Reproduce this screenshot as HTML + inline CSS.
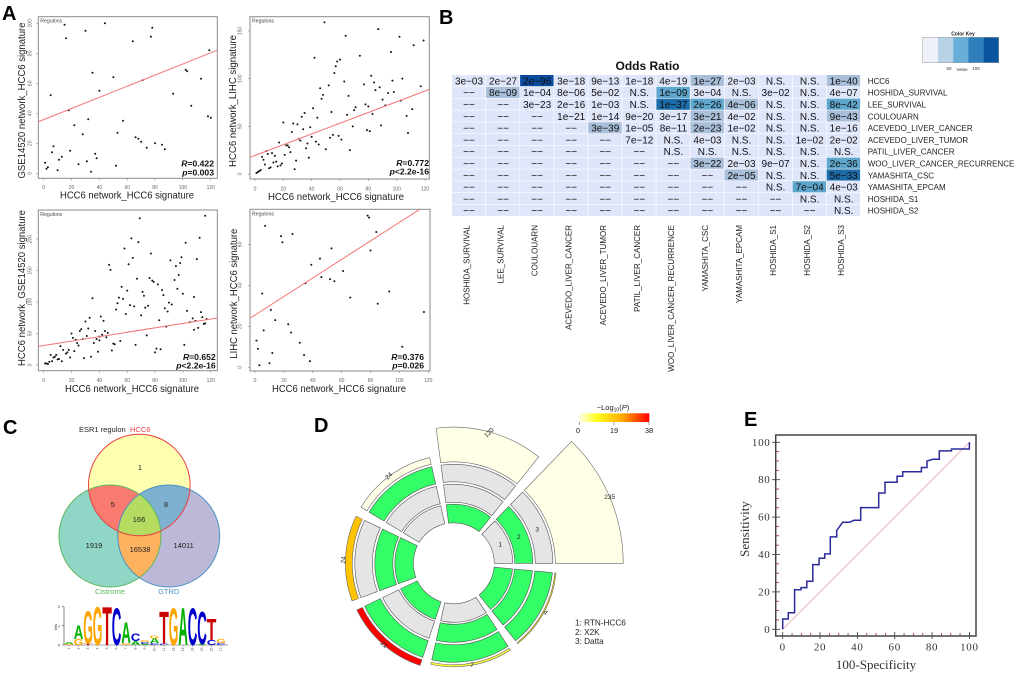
<!DOCTYPE html>
<html lang="en">
<head>
<meta charset="utf-8">
<title>HCC6 regulon figure</title>
<style>
html,body{margin:0;padding:0;background:#fff;width:1020px;height:679px;overflow:hidden}
svg{display:block;font-family:"Liberation Sans",sans-serif;filter:blur(.3px)}
</style>
</head>
<body>
<svg id="fig" xmlns="http://www.w3.org/2000/svg" width="1020" height="679" viewBox="0 0 1020 679">
<defs>
<clipPath id="clip-top"><circle cx="139.3" cy="485" r="50.8"/></clipPath>
<clipPath id="clip-left"><circle cx="110" cy="536" r="51"/></clipPath>
<clipPath id="clip-right"><circle cx="168.7" cy="536" r="51"/></clipPath>
<linearGradient id="p-gradient" x1="0" x2="1" y1="0" y2="0">
<stop offset="0" stop-color="#ffffe8"/><stop offset="0.25" stop-color="#ffff20"/><stop offset="0.6" stop-color="#ffb000"/><stop offset="1" stop-color="#ff0000"/>
</linearGradient>
</defs>
<g font-weight="bold" font-size="20" fill="#000">
<text x="2" y="20">A</text>
<text x="439" y="24">B</text>
<text x="3" y="434">C</text>
<text x="314" y="432">D</text>
<text x="744" y="426">E</text>
</g>
<g id="venn">
<circle cx="139.3" cy="485" r="50.8" fill="#ffffb0"/>
<circle cx="110" cy="536" r="51" fill="#8fd6c6"/>
<circle cx="168.7" cy="536" r="51" fill="#bcb8d8"/>
<g clip-path="url(#clip-top)"><circle cx="110" cy="536" r="51" fill="#f97b70"/><circle cx="168.7" cy="536" r="51" fill="#7eb0d0"/></g>
<g clip-path="url(#clip-left)"><circle cx="168.7" cy="536" r="51" fill="#fdb25f"/></g>
<g clip-path="url(#clip-top)"><g clip-path="url(#clip-left)"><circle cx="168.7" cy="536" r="51" fill="#b5dc60"/></g></g>
<circle cx="110" cy="536" r="51" fill="none" stroke="#5cb85c"/>
<circle cx="168.7" cy="536" r="51" fill="none" stroke="#4a90c4"/>
<circle cx="139.3" cy="485" r="50.8" fill="none" stroke="#e84040"/>
<g font-size="7.5" fill="#222" text-anchor="middle">
<text x="140" y="470">1</text>
<text x="112.7" y="507">5</text>
<text x="166" y="507">8</text>
<text x="139" y="522">166</text>
<text x="94" y="548">1919</text>
<text x="140" y="552">16538</text>
<text x="183.7" y="548">14011</text>
</g>
<text x="79" y="432" font-size="7.5" fill="#222">ESR1 regulon</text>
<text x="130" y="432" font-size="7.5" fill="#e84040">HCC6</text>
<text x="110" y="594" font-size="7.5" fill="#5cb85c" text-anchor="middle">Cistrome</text>
<text x="168.7" y="594" font-size="7.5" fill="#4a90c4" text-anchor="middle">GTRD</text>
</g>
<g id="d-legend">
<text x="613" y="410" font-size="7.5" text-anchor="middle" fill="#222">−Log<tspan font-size="5" dy="1.5">10</tspan><tspan dy="-1.5">(</tspan><tspan font-style="italic">P</tspan>)</text>
<rect x="579.3" y="413.3" width="70" height="8.7" fill="url(#p-gradient)"/>
<g stroke="#444" stroke-width=".5"><line x1="579.5" x2="579.5" y1="422" y2="425"/><line x1="614" x2="614" y1="422" y2="425"/><line x1="649" x2="649" y1="422" y2="425"/></g>
<g font-size="7.5" text-anchor="middle" fill="#222">
<text x="578" y="433">0</text>
<text x="614" y="433">19</text>
<text x="649" y="433">38</text>
</g>
<g font-size="8.2" fill="#222">
<text x="575" y="625.5">1: RTN-HCC6</text>
<text x="575" y="635">2: X2K</text>
<text x="575" y="644">3: Datta</text>
</g>
</g>
<g id="color-key">
<text x="963" y="35.5" font-size="5" font-weight="bold" text-anchor="middle" fill="#222">Color Key</text>
<rect x="922.7" y="37.3" width="15.4" height="25.4" fill="#eef1fa"/>
<rect x="938" y="37.3" width="15.4" height="25.4" fill="#b9d3e6"/>
<rect x="953.2" y="37.3" width="15.4" height="25.4" fill="#69aed8"/>
<rect x="968.4" y="37.3" width="15.4" height="25.4" fill="#2f7fbd"/>
<rect x="983.6" y="37.3" width="15.4" height="25.4" fill="#0a549f"/>
<rect x="922.7" y="37.3" width="76" height="25.4" fill="none" stroke="#999" stroke-width=".5"/>
<g font-size="4.5" fill="#333" text-anchor="middle">
<text x="949" y="70">50</text>
<text x="962" y="71">Value</text>
<text x="976" y="70">100</text>
</g>
</g>
<text x="647.5" y="70" font-size="12" font-weight="bold" text-anchor="middle" fill="#111">Odds Ratio</text>
</svg>
<script>
/* ---------- scatter data ---------- */
const scatter1X=[1,2,3,5,6,7,10,11,13,15,16,18,19,22,25,28,30,31,32,34,35,37,38,40,44,50,52,53,57,64,66,68,70,71,74,77,78,80,85,87,93,102,103,106,113,118,119,120];
const scatter1Y=[7,3,4,52,14,18,2,9,11,99,90,42,15,32,6,26,95,8,36,1,67,13,10,55,100,64,5,27,35,88,24,23,21,62,17,91,97,20,19,16,53,69,68,45,63,38,82,37];
const scatter2X=[49,87,64,102,119,112,96,74,42,60,58,57,56,63,82,84,97,104,117,77,88,85,94,98,46,52,48,47,66,90,103,78,80,92,71,70,41,111,35,33,54,65,83,107,44,20,27,30,69,89,39,34,79,81,26,108,40,55,59,53,61,31,32,43,37,45,17,22,23,24,36,67,50,8,12,9,14,21,25,5,6,38,29,13,15,7,16,18,19,11,10,28,4,3,2,1];
const scatter2Y=[159,152,145,144,140,135,128,124,122,120,118,113,106,97,103,96,98,100,92,94,91,88,85,86,90,93,83,79,82,78,77,73,71,72,70,67,69,68,64,60,65,62,63,61,59,54,53,52,50,51,49,47,46,45,44,43,39,41,40,38,36,37,35,34,32,31,33,30,30,28,27,25,26,24,22,21,19,20,23,18,15,17,14,12,13,10,8,9,11,7,6,5,4,3,2,1];
const scatter3X=[69,116,63,68,112,102,58,77,64,110,99,91,61,47,48,95,98,97,94,67,76,78,79,82,56,60,71,96,85,86,100,72,54,57,35,108,53,90,92,62,65,75,73,52,87,89,103,113,59,70,114,33,41,43,83,107,109,105,117,30,27,26,32,37,20,88,111,108,116,115,44,46,42,40,45,38,31,28,21,23,24,25,36,40,51,50,55,74,66,101,12,14,22,39,18,16,17,19,29,34,49,81,84,80,5,9,8,7,10,11,13,6,4,1,2,3];
const scatter3Y=[233,237,201,195,202,194,185,177,170,168,171,166,160,159,151,157,162,143,135,137,138,134,132,128,124,118,116,121,119,111,113,110,107,105,106,108,98,99,96,95,93,94,91,88,90,85,86,84,81,79,76,75,77,70,71,74,70,68,73,69,57,54,58,54,50,61,59,56,66,65,54,51,48,45,44,41,46,41,43,40,35,31,35,39,33,34,38,47,32,32,30,24,22,21,24,18,20,12,11,13,23,26,25,20,16,16,13,12,9,9.5,6,6,5,2.5,2.5,1.5];
const scatter4X=[7,18,26,19,78,79,84,53,80,45,39,61,46,52,55,35,5,66,93,85,11,117,14,23,6,25,1,31,2,12,34,38,10,3,102];
const scatter4Y=[69,64,65,61,74,73,66,58,57,53,50,47,44,43,42,41,36,34,37,31,28,27,23,21,18,17,13,12,9,7,6,3,2,1,10];
const scatterFitIntercepts=[35.8,19.5,31,25.5];
const scatterFitSlopes=[0.371,0.563,0.35,0.452];
const scatterCorrelations=["0.422","0.772","0.652","0.376"];
const scatterPValues=["=0.003","<2.2e-16","<2.2e-16","=0.026"];
const xTickValues=[0,20,40,60,80,100,120];
const scatter1YTicks=[0,20,40,60,80,100];
const scatter2YTicks=[0,50,100,150];
const scatter3YTicks=[0,50,100,150,200];
const scatter4YTicks=[0,20,40,60];

/* ---------- heatmap data ---------- */
const heatmapRowLabels=["HCC6","HOSHIDA_SURVIVAL","LEE_SURVIVAL","COULOUARN","ACEVEDO_LIVER_CANCER","ACEVEDO_LIVER_TUMOR","PATIL_LIVER_CANCER","WOO_LIVER_CANCER_RECURRENCE","YAMASHITA_CSC","YAMASHITA_EPCAM","HOSHIDA_S1","HOSHIDA_S2"];
const heatmapColLabels=["HOSHIDA_SURVIVAL","LEE_SURVIVAL","COULOUARN","ACEVEDO_LIVER_CANCER","ACEVEDO_LIVER_TUMOR","PATIL_LIVER_CANCER","WOO_LIVER_CANCER_RECURRENCE","YAMASHITA_CSC","YAMASHITA_EPCAM","HOSHIDA_S1","HOSHIDA_S2","HOSHIDA_S3"];
const heatmapValues=[
["3e-03","2e-27","2e-96","3e-18","9e-13","1e-18","4e-19","1e-27","2e-03","N.S.","N.S.","1e-40"],
["--","8e-09","1e-04","8e-06","5e-02","N.S.","1e-09","3e-04","N.S.","3e-02","N.S.","4e-07"],
["--","--","3e-23","2e-16","1e-03","N.S.","1e-37","2e-26","4e-06","N.S.","N.S.","8e-42"],
["--","--","--","1e-21","1e-14","9e-20","3e-17","3e-21","4e-02","N.S.","N.S.","9e-43"],
["--","--","--","--","3e-39","1e-05","8e-11","2e-23","1e-02","N.S.","N.S.","1e-16"],
["--","--","--","--","--","7e-12","N.S.","4e-03","N.S.","N.S.","1e-02","2e-02"],
["--","--","--","--","--","--","N.S.","N.S.","N.S.","N.S.","N.S.","N.S."],
["--","--","--","--","--","--","--","3e-22","2e-03","9e-07","N.S.","2e-36"],
["--","--","--","--","--","--","--","--","2e-05","N.S.","N.S.","5e-33"],
["--","--","--","--","--","--","--","--","--","N.S.","7e-04","4e-03"],
["--","--","--","--","--","--","--","--","--","--","N.S.","N.S."],
["--","--","--","--","--","--","--","--","--","--","--","N.S."]
];
const heatmapOddsLevels=[
[0,0,4,0,0,0,0,1,0,0,0,1],
[0,1,0,0,0,0,2,0,0,0,0,0],
[0,0,0,0,0,0,3,2,1,0,0,2],
[0,0,0,0,0,0,0,1,0,0,0,1],
[0,0,0,0,1,0,0,1,0,0,0,0],
[0,0,0,0,0,0,0,0,0,0,0,0],
[0,0,0,0,0,0,0,0,0,0,0,0],
[0,0,0,0,0,0,0,1,0,0,0,2],
[0,0,0,0,0,0,0,0,1,0,0,3],
[0,0,0,0,0,0,0,0,0,0,2,0],
[0,0,0,0,0,0,0,0,0,0,0,0],
[0,0,0,0,0,0,0,0,0,0,0,0]
];

/* ---------- sequence logo data ---------- */
const logoPositions=[1,2,3,4,5,6,7,8,9,10,11,12,13,14,15,16,17];
const logoLetters=[["G","A"],["G","A"],["T","G"],["G"],["T"],["C"],["G","A"],["A","C"],["A","C","G"],["C","A","G"],["C","T"],["G"],["A"],["C"],["A","C"],["C","T"],["C","G"]];
const logoBits=[[0.05,0.1],[0.3,0.7],[0.08,1.65],[1.95],[1.95],[1.9],[0.1,1.05],[0.2,0.4],[0.05,0.1,0.1],[0.1,0.25,0.15],[0.06,1.65],[1.9],[1.9],[1.9],[0.05,1.65],[0.25,1.1],[0.1,0.2]];
const logoTicks=[0,1,2];

/* ---------- enrichment circle data ---------- */
const enrichOuterValues=[235,120,24,24,21,7,4];
const enrichPValues=[0.5,0.5,0.5,25,38,10,17];
const enrichRing1Hit=[0,1,0,1,1,0,1];
const enrichRing2Hit=[1,0,0,1,0,1,1];
const enrichRing3Hit=[0,0,1,0,1,1,1];

/* ---------- ROC data ---------- */
const rocSpecificity=[0,0,3,3,6.4,6.4,9.8,9.8,12.9,12.9,16.1,16.1,19.5,19.5,22.5,22.5,25.5,25.5,28.9,28.9,32.1,35.7,38.2,41.8,41.8,51.4,51.4,54.8,54.8,61.3,61.3,64.3,64.3,74.3,74.3,77.3,77.3,80.4,83.9,83.9,90.4,90.4,100,100];
const rocSensitivity=[0,5.5,5.5,8.9,8.9,21.2,21.2,22.3,22.3,25.7,25.7,34.6,34.6,38,38,40.3,40.3,49.4,49.4,52.8,57.2,57.2,58.3,58.3,65.1,65.1,72.9,72.9,78.6,78.6,81.8,81.8,84.3,84.3,86.5,86.5,90,90.9,90.9,95.4,95.4,96.4,96.4,100];
const rocTicks=[0,20,40,60,80,100];
const rocMinorTicks=[5,10,15,25,30,35,45,50,55,65,70,75,85,90,95];

const NS="http://www.w3.org/2000/svg";
const fig=document.getElementById("fig");
function mk(parent,tag,attrs,txt){
  const el=document.createElementNS(NS,tag);
  for(const k in attrs) el.setAttribute(k,attrs[k]);
  if(txt!==undefined) el.textContent=txt;
  parent.appendChild(el);
  return el;
}

/* ---------- panel A ---------- */
function drawScatter(i,cfg,xs,ys,yTicks){
  const g=mk(fig,"g",{});
  
  
  const xp=v=>cfg.x0+v*cfg.xs;
  const yp=v=>cfg.y0-v*cfg.ys;
  const frame=mk(g,"rect",{x:cfg.l,y:cfg.t,width:cfg.r-cfg.l,height:cfg.b-cfg.t,fill:"#fff",stroke:"#8a8a8a","stroke-width":1});
  
  
  xTickValues.forEach(v=>{
    mk(g,"line",{x1:xp(v),x2:xp(v),y1:cfg.b,y2:cfg.b+2,stroke:"#777","stroke-width":.5});
    const t=mk(g,"text",{x:xp(v),y:cfg.xtY+2,"font-size":5,fill:"#666","text-anchor":"middle"},v);
    
    
  });
  yTicks.forEach(v=>{
    mk(g,"line",{x1:cfg.l-2,x2:cfg.l,y1:yp(v),y2:yp(v),stroke:"#777","stroke-width":.5});
    const t=mk(g,"text",{x:0,y:0,"font-size":5,fill:"#666","text-anchor":"middle",transform:`translate(${cfg.ytX+2},${yp(v)}) rotate(-90)`},v);
    
    
  });
  xs.forEach((x,k)=>{
    const c=mk(g,"circle",{cx:xp(x),cy:yp(ys[k]),r:1,fill:"#111"});
    
    
  });
  const a=scatterFitIntercepts[i],b=scatterFitSlopes[i];
  const xL=(cfg.l-cfg.x0)/cfg.xs;
  let xR=(cfg.r-cfg.x0)/cfg.xs;
  const yMax=(cfg.y0-cfg.t)/cfg.ys;
  if(a+b*xR>yMax) xR=(yMax-a)/b;
  const fit=mk(g,"line",{x1:xp(xL),y1:yp(a+b*xL),x2:xp(xR),y2:yp(a+b*xR),stroke:"#f47474","stroke-width":1});
  
  
  const reg=mk(g,"text",{x:cfg.l+2,y:cfg.t+6,"font-size":5.2,fill:"#444"},"Regulons");
  
  
  const xl=mk(g,"text",{x:cfg.xlX,y:cfg.xlY,"font-size":10.5,fill:"#222","text-anchor":"middle",textLength:cfg.xlLen,lengthAdjust:"spacingAndGlyphs"},"HCC6 network_HCC6 signature");
  
  
  const yl=mk(g,"text",{x:0,y:0,"font-size":10.5,fill:"#222","text-anchor":"middle",textLength:cfg.ylLen,lengthAdjust:"spacingAndGlyphs",transform:`translate(${cfg.ylX},${cfg.ylY}) rotate(-90)`},cfg.yTitle);
  
  
  const rT=mk(g,"text",{x:cfg.annX,y:cfg.annY1,"font-size":8.6,"font-weight":"bold",fill:"#111","text-anchor":"end"});
  
  
  mk(rT,"tspan",{"font-style":"italic"},"R");
  mk(rT,"tspan",{},"="+scatterCorrelations[i]);
  const pT=mk(g,"text",{x:cfg.annX,y:cfg.annY2,"font-size":8.6,"font-weight":"bold",fill:"#111","text-anchor":"end"});
  
  
  mk(pT,"tspan",{"font-style":"italic"},"p");
  mk(pT,"tspan",{},scatterPValues[i]);
}
drawScatter(0,{l:38.3,r:217.3,t:16.7,b:178.3,x0:43.7,xs:1.392,y0:173.3,ys:1.5,xtY:187,ytX:29.3,xlX:127,xlY:198.5,xlLen:134,ylX:25,ylY:100.5,ylLen:156,yTitle:"GSE14520 network_HCC6 signature",annX:214,annY1:166.5,annY2:175.5},scatter1X,scatter1Y,scatter1YTicks);
drawScatter(1,{l:250,r:429.3,t:16.7,b:179,x0:255,xs:1.4167,y0:174,ys:0.9533,xtY:188.3,ytX:239.3,xlX:336,xlY:200,xlLen:136,ylX:236,ylY:101,ylLen:132,yTitle:"HCC6 network_LIHC signature",annX:429,annY1:166,annY2:174.5},scatter2X,scatter2Y,scatter2YTicks);
drawScatter(2,{l:38.3,r:217.3,t:210,b:370.7,x0:43.7,xs:1.392,y0:365,ys:0.63,xtY:380,ytX:29.3,xlX:132,xlY:392,xlLen:134,ylX:25,ylY:288,ylLen:156,yTitle:"HCC6 network_GSE14520 signature",annX:215.7,annY1:360,annY2:368.5},scatter3X,scatter3Y,scatter3YTicks);
drawScatter(3,{l:250,r:430,t:209.3,b:371,x0:255,xs:1.444,y0:367.3,ys:2.05,xtY:380,ytX:239.3,xlX:339,xlY:392,xlLen:134,ylX:237,ylY:293.7,ylLen:130,yTitle:"LIHC network_HCC6 signature",annX:424,annY1:360,annY2:368.5},scatter4X,scatter4Y,scatter4YTicks);

/* ---------- panel B ---------- */
(function(){
  const left=452,top=75,cw=34.06,ch=11.8;
  const shade=["#e0e6fa","#a9bfd9","#5ea6cc","#1b6ca9","#0a4a9b"];
  const g=mk(fig,"g",{"font-size":10,fill:"#111"});
  
  
  heatmapValues.forEach((row,r)=>{
    row.forEach((val,c)=>{
      const rect=mk(g,"rect",{x:left+c*cw,y:top+r*ch,width:cw-.6,height:ch-.6,fill:shade[heatmapOddsLevels[r][c]]});
      
      
      const t=mk(g,"text",{x:left+c*cw+cw/2,y:top+r*ch+ch/2+3.5,"text-anchor":"middle"},val.replace(/-/g,"\u2212"));
      
      
    });
  });
  heatmapRowLabels.forEach((s,r)=>{
    const t=mk(g,"text",{x:867.7,y:top+r*ch+ch/2+3,"font-size":8,fill:"#222"},s);
    
    
  });
  heatmapColLabels.forEach((s,c)=>{
    const x=left+c*cw+cw/2-2.5;
    const t=mk(g,"text",{x:0,y:0,"font-size":8,fill:"#222","text-anchor":"end",transform:`translate(${x+3},225) rotate(-90)`},s);
    
    
  });
})();

/* ---------- panel C logo ---------- */
(function(){
  const colors={A:"#00b000",C:"#0000cc",G:"#ffa500",T:"#cc0000"};
  const widths={A:.722,C:.722,G:.778,T:.611};
  const baseY=645,perBit=19.2,x0=69,step=9.5;
  const g=mk(fig,"g",{});
  
  
  mk(g,"line",{x1:64,x2:64,y1:baseY-2*perBit,y2:baseY,stroke:"#333","stroke-width":.6});
  mk(g,"line",{x1:64,x2:228,y1:baseY,y2:baseY,stroke:"#555","stroke-width":.5});
  logoTicks.forEach(v=>{
    mk(g,"line",{x1:62,x2:64,y1:baseY-v*perBit,y2:baseY-v*perBit,stroke:"#333","stroke-width":.5});
    const t=mk(g,"text",{x:59,y:baseY-v*perBit+1.5,"font-size":4,"text-anchor":"middle",fill:"#333"},v);
    
    
  });
  const yt=mk(g,"text",{x:0,y:0,"font-size":4,"text-anchor":"middle",fill:"#333",transform:"translate(57,627) rotate(-90)"},"bits");
  
  
  logoPositions.forEach((p,i)=>{
    const x=x0+i*step;
    let y=baseY;
    mk(g,"line",{x1:x,x2:x,y1:baseY,y2:baseY+1.5,stroke:"#555","stroke-width":.5});
    const pl=mk(g,"text",{x:0,y:0,"font-size":3.5,"text-anchor":"end",fill:"#444",transform:`translate(${x+1},${baseY+2.5}) rotate(-90)`},p);
    
    
    logoLetters[i].forEach((ch,k)=>{
      const h=logoBits[i][k]*perBit;
      const sx=9.6/(widths[ch]*10);
      const sy=h/6.9;
      const t=mk(g,"text",{x:0,y:0,"font-size":10,"font-weight":"bold",fill:colors[ch],"text-anchor":"middle",transform:`translate(${x},${y}) scale(${sx},${sy})`},ch);
      
      
      y-=h;
    });
  });
})();

/* ---------- panel D ---------- */
(function(){
  const cx=453.8,cy=563.3;
  const green="#33ff66",gray="#e5e5e5";
  const pStops=[[0,[255,255,240]],[13,[255,255,0]],[25,[255,195,0]],[38,[255,0,0]]];
  function pColor(p){
    for(let i=1;i<pStops.length;i++){
      if(p<=pStops[i][0]){
        const a=pStops[i-1],b=pStops[i],f=(p-a[0])/(b[0]-a[0]);
        return "rgb("+a[1].map((c,k)=>Math.round(c+(b[1][k]-c)*f)).join(",")+")";
      }
    }
    return "rgb(255,0,0)";
  }
  const pt=(r,a)=>[cx+r*Math.cos(a*Math.PI/180),cy-r*Math.sin(a*Math.PI/180)];
  function ring(r0,r1,a0,a1){
    const p=[pt(r1,a0),pt(r1,a1),pt(r0,a1),pt(r0,a0)].map(q=>q.map(v=>v.toFixed(2)).join(" "));
    return `M${p[0]}A${r1} ${r1} 0 0 0 ${p[1]}L${p[2]}A${r0} ${r0} 0 0 1 ${p[3]}Z`;
  }
  const g=mk(fig,"g",{});
  
  
  const stepA=360/enrichOuterValues.length;
  const tilt=[0,-45,-45,-85,40,0,40];
  enrichOuterValues.forEach((v,i)=>{
    const a0=i*stepA,a1=a0+46;
    const rings=[[40.5,59,enrichRing1Hit[i]],[61,79,enrichRing2Hit[i]],[81.5,99,enrichRing3Hit[i]]];
    rings.forEach(rg=>{
      const seg=mk(g,"path",{d:ring(rg[0],rg[1],a0,a1),fill:rg[2]?green:gray,stroke:"#555","stroke-width":.6});
      
      
    });
    const rOuter=101.5+v*0.289;
    const outer=mk(g,"path",{d:ring(101.5,rOuter,a0,a1),fill:pColor(enrichPValues[i]),stroke:"#666","stroke-width":.6});
    
    
    const mid=(a0+a1)/2,q=pt(rOuter,mid);
    const t=mk(g,"text",{x:0,y:0,"font-size":6.5,fill:"#222","text-anchor":"middle",transform:`translate(${q[0].toFixed(1)},${(q[1]+2).toFixed(1)}) rotate(${tilt[i]})`},v);
    
    
  });
  [[1,50],[2,70],[3,90]].forEach(d=>{
    const q=pt(d[1],22);
    const t=mk(g,"text",{x:q[0],y:q[1]+2,"font-size":6.5,fill:"#222","text-anchor":"middle"},d[0]);
    
    
  });
})();

/* ---------- panel E ---------- */
(function(){
  const xp=v=>782.7+v*1.867;
  const yp=v=>629.3-v*1.87;
  const g=mk(fig,"g",{});
  
  
  const serif='"Liberation Serif",serif';
  rocMinorTicks.forEach(v=>{
    mk(g,"line",{x1:775.7,x2:779,y1:yp(v),y2:yp(v),stroke:"#a02020","stroke-width":.8});
    mk(g,"line",{x1:xp(v),x2:xp(v),y1:633,y2:636,stroke:"#a02020","stroke-width":.8});
  });
  rocTicks.forEach(v=>{
    mk(g,"line",{x1:772,x2:780,y1:yp(v),y2:yp(v),stroke:"#333","stroke-width":.8});
    mk(g,"line",{x1:xp(v),x2:xp(v),y1:632,y2:639,stroke:"#333","stroke-width":.8});
    const yl=mk(g,"text",{x:770.5,y:yp(v)+3.5,"font-size":11,"letter-spacing":.7,"font-family":serif,fill:"#333","text-anchor":"end"},v);
    
    
    const xl=mk(g,"text",{x:xp(v),y:650.5,"font-size":11,"letter-spacing":.7,"font-family":serif,fill:"#333","text-anchor":"middle"},v);
    
    
  });
  const diag=mk(g,"line",{x1:xp(0),y1:yp(0),x2:xp(100),y2:yp(100),stroke:"#e6b0b0","stroke-width":.9});
  
  
  const d=rocSpecificity.map((x,i)=>(i?"L":"M")+xp(x).toFixed(1)+" "+yp(rocSensitivity[i]).toFixed(1)).join("");
  const line=mk(g,"path",{d:d,fill:"none",stroke:"#2a2a9a","stroke-width":1.5});
  
  
  const fr=mk(g,"rect",{x:775.7,y:435,width:200.3,height:201,fill:"none",stroke:"#444","stroke-width":1.5});
  
  
  const xt=mk(g,"text",{x:876,y:669,"font-size":13,"font-family":serif,fill:"#333","text-anchor":"middle"},"100-Specificity");
  
  
  const yt=mk(g,"text",{x:0,y:0,"font-size":13,"font-family":serif,fill:"#333","text-anchor":"middle",transform:"translate(749,529) rotate(-90)"},"Sensitivity");
  
  
})();
</script>
</body>
</html>
